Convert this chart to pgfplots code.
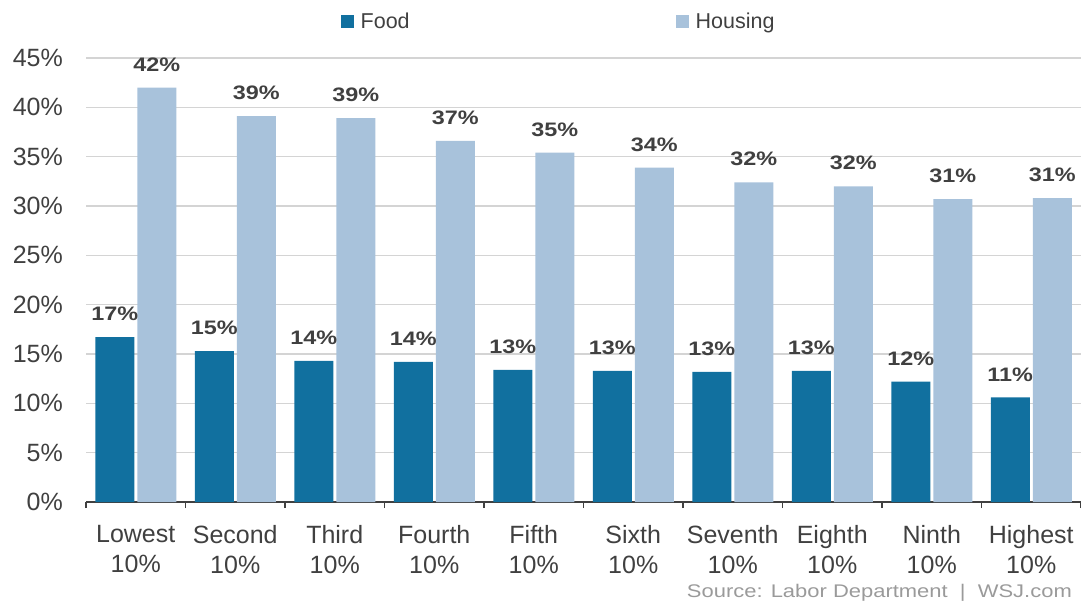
\documentclass[border=0pt]{standalone}
\usepackage{fontspec}
\setmainfont{Liberation Sans}
\newfontfamily\wide{Liberation Sans}[FakeStretch=1.2]
\usepackage{pgfplots}
\pgfplotsset{compat=1.18}
\definecolor{food}{HTML}{11709F}
\definecolor{housing}{HTML}{A8C2DB}
\definecolor{txt}{HTML}{404040}
\definecolor{gridc}{HTML}{D4D4D4}
\definecolor{src}{HTML}{9A9A9A}

\begin{document}
\begin{tikzpicture}
\path[use as bounding box] (0,0) rectangle (1081pt,606pt);
\begin{axis}[
    at={(86pt,104pt)}, anchor=south west,
    scale only axis, width=995pt, height=444pt,
    ybar=3pt, bar width=39pt,
    xmin=-0.5, xmax=9.5, ymin=0, ymax=45,
    enlarge x limits=false, enlarge y limits=false,
    axis x line*=bottom, axis y line*=left,
    x axis line style={-, draw=txt, line width=1.4pt},
    y axis line style={draw=none},
    /pgf/number format/assume math mode=true,
    ytick={0,5,...,45},
    ymajorgrids, grid style={gridc, line width=1.2pt},
    major tick length=0pt,
    yticklabel={\pgfmathprintnumber{\tick}\%},
    yticklabel style={font=\fontsize{25}{25}\selectfont, text=txt, anchor=east, inner sep=0pt, xshift=-23pt},
    xtick={0,...,9},
    xticklabels={{Lowest\\10\%},{Second\\10\%},{Third\\10\%},{Fourth\\10\%},{Fifth\\10\%},
                 {Sixth\\10\%},{Seventh\\10\%},{Eighth\\10\%},{Ninth\\10\%},{Highest\\10\%}},
    xticklabel style={align=center, font=\fontsize{25}{30}\selectfont, text=txt, anchor=north, inner sep=0pt, yshift=-23pt},
    minor xtick={-0.5,0.5,...,9.5},
    minor tick length=6pt, tick align=outside,
    minor x tick style={draw=txt, line width=1.4pt},
    nodes near coords={\pgfmathprintnumber[fixed,precision=0]{\pgfplotspointmeta}\%},
    every node near coord/.append style={font=\wide\bfseries\fontsize{19.5}{19.5}\selectfont, text=txt, anchor=south, inner sep=0pt, yshift=16pt},
    legend columns=2,
    legend style={at={(0.475,1.083)}, anchor=center, draw=none, fill=none,
        font=\fontsize{21.5}{21.5}\selectfont, text=txt,
        /tikz/every odd column/.append style={column sep=5pt},
        /tikz/every even column/.append style={column sep=264pt}},
    legend image code/.code={\path[#1, draw=none] (0pt,-6.5pt) rectangle (13pt,6.5pt);},
    clip=false,
]
\addplot[fill=food, draw=none] coordinates {
    (0,16.7) (1,15.3) (2,14.3) (3,14.2) (4,13.4)
    (5,13.3) (6,13.2) (7,13.3) (8,12.2) (9,10.6)
};
\addplot[fill=housing, draw=none] coordinates {
    (0,42.0) (1,39.1) (2,38.9) (3,36.6) (4,35.4)
    (5,33.9) (6,32.4) (7,32.0) (8,30.7) (9,30.8)
};
\legend{Food,Housing}
\node[anchor=base east, inner sep=0pt, text=src, font=\wide\fontsize{18.3}{18.3}\selectfont]
    at (rel axis cs:0.991,-0.216) {Source: Labor Department \ | \ WSJ.com};
\end{axis}
\end{tikzpicture}
\end{document}
